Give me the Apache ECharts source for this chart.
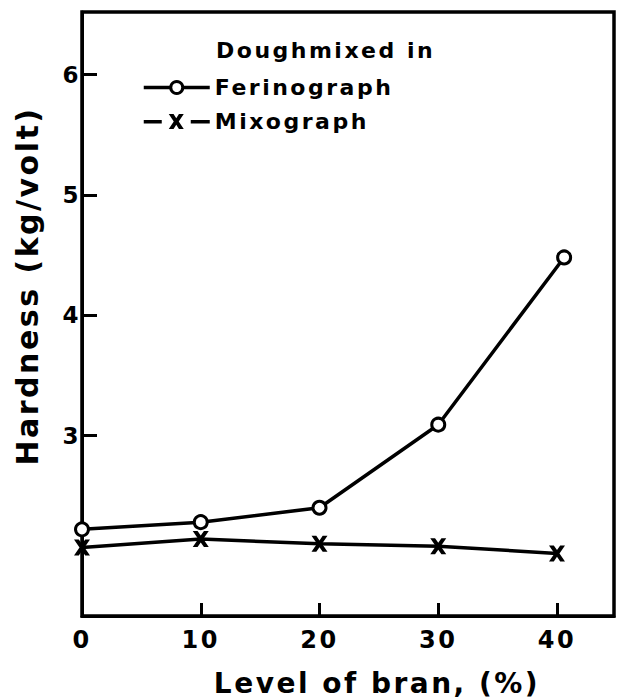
<!DOCTYPE html>
<html>
<head>
<meta charset="utf-8">
<title>Hardness vs level of bran</title>
<script src="https://cdn.jsdelivr.net/npm/echarts@6/dist/echarts.min.js"></script>
<style>
  html, body { margin: 0; padding: 0; background: #fff; }
  #chart { width: 617px; height: 699px; }
  /* hand-lettered look: widely spaced capitals */
  #chart text { letter-spacing: 2.5px; }
</style>
</head>
<body>
<div id="chart"></div>
<script>
// Hardness of dough (kg/volt) against level of bran (%)
const ferinographBran = [0, 10, 20, 30, 40.6];
const ferinographHardness = [2.22, 2.28, 2.40, 3.09, 4.48];
const mixographBran = [0, 10, 20, 30, 40];
const mixographHardness = [2.07, 2.14, 2.10, 2.08, 2.02];

const xTickValues = [0, 10, 20, 30, 40];
const yTickValues = [3, 4, 5, 6];

const legendTitle = 'Doughmixed in';
const seriesNames = ['Ferinograph', 'Mixograph'];
const xTitle = 'Level of bran, (%)';
const yTitle = 'Hardness (kg/volt)';

const FONT = 'DejaVu Sans';
const INK = '#000';

// bold "x" marker drawn as a filled outline
const crossSymbol = 'path://M0,0 L4.2,0 L7,4 L9.8,0 L14,0 L9.2,7 L14,14 L9.8,14 L7,10 L4.2,14 L0,14 L4.8,7 Z';
// legend key: dash, x, dash
const crossLegendIcon = 'path://M0,6 L18,6 L18,9.4 L0,9.4 Z M25,0 L29.8,0 L32.5,4.2 L35.2,0 L40,0 L35,7.5 L40,15 L35.2,15 L32.5,10.8 L29.8,15 L25,15 L30,7.5 Z M47,6 L66,6 L66,9.4 L47,9.4 Z';

function pairs(xs, ys) {
  return xs.map((x, i) => [x, ys[i]]);
}

const chart = echarts.init(document.getElementById('chart'), null, { renderer: 'svg' });

chart.setOption({
  animation: false,
  backgroundColor: '#fff',
  title: {
    text: legendTitle,
    left: 216,
    top: 39,
    padding: 0,
    textStyle: { fontFamily: FONT, fontWeight: 'bold', fontSize: 22, color: INK }
  },
  legend: {
    orient: 'vertical',
    left: 142,
    top: 76,
    padding: 0,
    itemWidth: 66,
    itemHeight: 15,
    itemGap: 11,
    textStyle: { fontFamily: FONT, fontWeight: 'bold', fontSize: 22, lineHeight: 23, color: INK },
    data: [
      {
        name: seriesNames[0],
        lineStyle: { width: 3.5, color: INK },
        itemStyle: { color: '#fff', borderColor: INK, borderWidth: 3 }
      },
      { name: seriesNames[1], icon: crossLegendIcon }
    ]
  },
  grid: {
    left: 82,
    right: 3,
    top: 12,
    bottom: 83,
    show: true,
    borderColor: INK,
    borderWidth: 3.5,
    containLabel: false
  },
  xAxis: {
    type: 'value',
    min: 0,
    max: 44.8,
    interval: 10,
    axisLine: { lineStyle: { color: INK, width: 3 } },
    axisTick: { inside: true, length: 13, lineStyle: { color: INK, width: 3 }, customValues: xTickValues },
    axisLabel: {
      customValues: xTickValues,
      margin: 12,
      color: INK,
      fontFamily: FONT,
      fontWeight: 'bold',
      fontSize: 24
    },
    splitLine: { show: false }
  },
  yAxis: {
    type: 'value',
    min: 1.5,
    max: 6.52,
    axisLine: { lineStyle: { color: INK, width: 3 } },
    axisTick: { inside: true, length: 15, lineStyle: { color: INK, width: 3 }, customValues: yTickValues },
    axisLabel: {
      customValues: yTickValues,
      margin: 1,
      color: INK,
      fontFamily: FONT,
      fontWeight: 'bold',
      fontSize: 23
    },
    splitLine: { show: false }
  },
  graphic: [
    {
      type: 'text',
      x: 27,
      y: 286,
      rotation: Math.PI / 2,
      style: {
        text: yTitle,
        font: 'bold 30px "' + FONT + '"',
        fill: INK,
        align: 'center',
        verticalAlign: 'middle'
      }
    },
    {
      type: 'text',
      x: 377,
      y: 683,
      style: {
        text: xTitle,
        font: 'bold 28px "' + FONT + '"',
        fill: INK,
        align: 'center',
        verticalAlign: 'middle'
      }
    }
  ],
  series: [
    {
      name: seriesNames[0],
      type: 'line',
      data: pairs(ferinographBran, ferinographHardness),
      symbol: 'circle',
      symbolSize: 13,
      itemStyle: { color: '#fff', borderColor: INK, borderWidth: 3 },
      lineStyle: { color: INK, width: 3.5 },
      z: 3
    },
    {
      name: seriesNames[1],
      type: 'line',
      data: pairs(mixographBran, mixographHardness),
      symbol: crossSymbol,
      symbolSize: 16,
      itemStyle: { color: INK },
      lineStyle: { color: INK, width: 3.5 },
      z: 3
    }
  ]
});
</script>
</body>
</html>
